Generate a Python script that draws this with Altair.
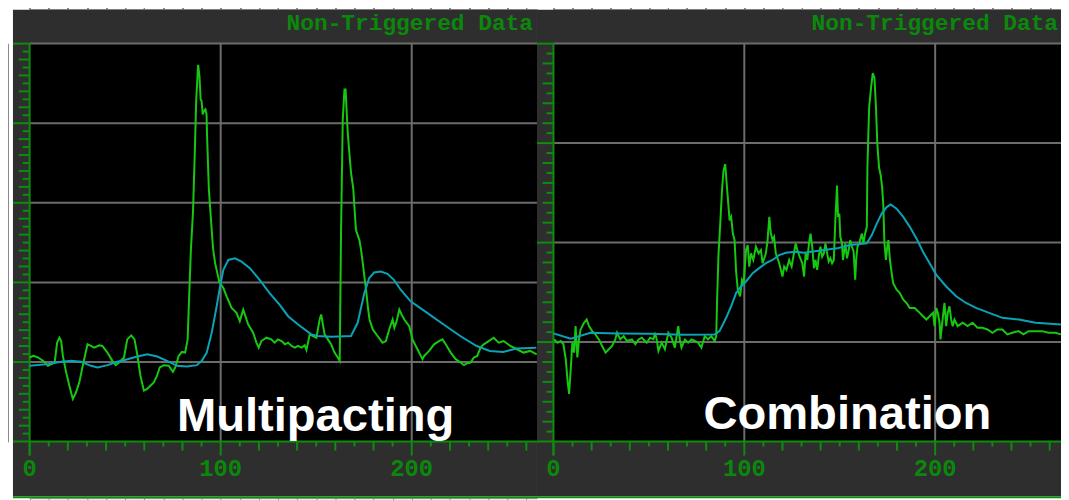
import altair as alt
import pandas as pd

# ---------------- text ----------------
TITLE = "Non-Triggered Data"
LABEL_LEFT = "Multipacting"
LABEL_RIGHT = "Combination"
X_TICK_VALUES = [0, 100, 200]
X_TICK_LABELS = ["0", "100", "200"]

# ---------------- data (x = sample, y = minor divisions) ----------------
L_GREEN = [
    (0, 10.56), (2.0, 10.76), (4.5, 10.56), (7.0, 10.14), (9.6, 9.52), (11.3, 9.73), (13.1, 9.93),
    (14.4, 12.43), (15.6, 13.05), (16.5, 12.63), (17.4, 10.76), (19.1, 8.69), (20.8, 7.02), (22.6, 5.36),
    (24.3, 6.19), (26.0, 7.44), (27.8, 9.52), (30.3, 12.22), (32.1, 12.01), (33.8, 11.8), (36.4, 12.09),
    (38.1, 12.01), (40.7, 11.18), (43.3, 10.14), (45.1, 9.6), (46.8, 9.93), (49.4, 10.56), (51.1, 12.84),
    (53.2, 13.34), (54.9, 12.84), (56.3, 10.97), (58.0, 8.27), (59.8, 6.4), (61.5, 6.61), (63.2, 7.02),
    (65.0, 7.44), (66.7, 8.27), (68.1, 9.31), (70.2, 9.6), (72.8, 9.52), (75.0, 8.77), (76.2, 9.31),
    (78.0, 10.76), (79.7, 11.26), (81.4, 11.18), (82.7, 12.84), (83.5, 18.25), (84.4, 24.07), (85.5, 28.85),
    (86.3, 35.08), (87.2, 42.97), (88.2, 47.34), (88.9, 45.89), (89.5, 42.97), (90.0, 42.77), (90.6, 41.1),
    (91.2, 41.52), (92.0, 41.73), (92.6, 41.1), (92.9, 38.2), (93.8, 31.75), (95.0, 27.6), (96.0, 24.27),
    (97.1, 22.4), (99.3, 20.03), (101.4, 19.29), (103.1, 18.25), (105.7, 16.8), (108.3, 16.17), (110.0, 15.13),
    (111.8, 16.58), (114.4, 14.71), (117.0, 13.67), (118.7, 12.43), (119.9, 11.8), (121.3, 12.63),
    (123.9, 13.05), (126.5, 12.84), (128.2, 12.43), (130.0, 12.84), (131.9, 12.63), (133.6, 12.22),
    (135.3, 12.43), (137.1, 12.01), (138.8, 11.8), (140.5, 12.01), (142.3, 11.8), (144.0, 12.09),
    (144.9, 11.51), (146.6, 13.47), (148.3, 13.26), (150.1, 13.05), (151.8, 15.34), (152.6, 15.96),
    (153.5, 14.71), (154.4, 13.47), (156.1, 12.84), (157.8, 12.22), (159.6, 11.18), (161.3, 10.56),
    (162.3, 10.14), (163.0, 26.35), (163.9, 40.48), (164.8, 44.22), (165.4, 44.22), (165.8, 42.14),
    (166.5, 38.82), (167.4, 36.12), (168.2, 33.83), (169.4, 31.75), (170.8, 26.56), (172.6, 25.31),
    (173.5, 24.06), (174.4, 22.4), (175.2, 20.74), (176.1, 19.08), (177.0, 17.0), (177.9, 15.34),
    (179.6, 14.09), (182.1, 13.26), (184.7, 12.43), (186.5, 12.63), (188.2, 14.09), (190.0, 15.34),
    (190.9, 14.3), (192.1, 15.13), (193.5, 16.58), (194.7, 15.96), (196.1, 15.34), (198.7, 14.5),
    (200.4, 12.84), (203.0, 11.6), (205.6, 10.35), (206.5, 10.76), (209.1, 11.39), (211.7, 12.22),
    (214.3, 12.63), (216.1, 12.84), (217.8, 12.22), (220.4, 11.18), (223.0, 10.35), (225.6, 9.93),
    (227.3, 9.6), (229.1, 9.85), (230.8, 9.93), (232.5, 10.56), (234.3, 10.76), (236.0, 11.8),
    (237.7, 12.22), (240.3, 12.63), (242.9, 13.05), (245.5, 12.43), (248.1, 12.63), (251.6, 12.01),
    (255.1, 11.6), (258.5, 11.18), (262.0, 11.39), (265.4, 10.97),
]

L_CYAN = [
    (0, 9.52), (9.6, 9.73), (16.5, 10.02), (21.7, 10.14), (26.9, 10.02), (32.1, 9.52), (35.6, 9.31),
    (40.8, 9.6), (45.9, 10.02), (51.2, 10.35), (56.4, 10.68), (61.6, 10.97), (66.8, 10.68), (71.9, 10.14),
    (77.1, 9.52), (82.3, 9.44), (87.5, 9.6), (90.1, 10.14), (92.7, 11.18), (95.3, 13.67), (97.9, 17.0),
    (99.7, 19.5), (101.4, 21.57), (104.0, 22.82), (107.5, 23.03), (110.9, 22.61), (115.3, 21.78),
    (120.4, 20.32), (125.6, 18.66), (130.8, 17.2), (135.3, 15.75), (140.5, 14.71), (147.4, 13.47),
    (150.9, 13.26), (157.8, 13.18), (168.2, 13.26), (171.7, 14.92), (175.2, 18.66), (177.7, 20.53),
    (180.3, 21.24), (183.8, 21.37), (187.3, 21.08), (190.7, 20.32), (194.2, 19.08), (199.4, 17.62),
    (208.1, 16.17), (216.7, 14.71), (225.4, 13.26), (234.0, 12.01), (240.9, 11.39), (247.8, 11.26),
    (254.8, 11.68), (265.2, 11.8),
]

R_GREEN = [
    (0.4, 10.27), (2.1, 9.94), (3.85, 10.11), (5.2, 9.78), (6.45, 8.28), (7.3, 6.28), (8.2, 4.79),
    (9.05, 7.28), (9.9, 9.94), (10.8, 8.94), (11.6, 11.6), (12.5, 8.45), (13.4, 10.27), (14.2, 11.27),
    (16.0, 11.94), (17.4, 12.27), (18.6, 11.6), (20.3, 11.1), (22.0, 10.77), (23.8, 10.27), (25.5, 9.61),
    (27.3, 8.94), (29.0, 9.28), (30.7, 9.61), (32.4, 10.27), (33.3, 10.94), (35.0, 10.27), (36.8, 10.6),
    (38.5, 10.11), (41.1, 10.27), (42.9, 9.78), (44.6, 10.27), (46.3, 10.44), (48.9, 9.94), (50.6, 10.44),
    (52.4, 10.27), (53.2, 10.94), (54.1, 10.27), (55.0, 9.11), (56.7, 9.94), (58.4, 9.28), (60.2, 10.94),
    (61.9, 10.44), (63.6, 9.44), (65.4, 11.6), (66.2, 10.27), (67.1, 9.44), (68.9, 10.27), (70.6, 9.94),
    (72.3, 10.27), (74.1, 10.11), (75.8, 9.94), (77.5, 9.44), (79.3, 10.6), (81.0, 10.27), (82.7, 10.6),
    (84.5, 10.11), (85.3, 10.6), (85.7, 13.93), (86.5, 18.92), (87.4, 21.91), (88.3, 25.24), (89.1, 27.23),
    (90.0, 27.9), (90.9, 25.57), (92.3, 22.24), (93.1, 22.58), (94.0, 20.91), (94.9, 20.25), (95.7, 17.09),
    (96.6, 15.26), (97.8, 14.6), (98.8, 16.26), (99.7, 15.93), (100.9, 19.25), (101.8, 19.75),
    (102.6, 17.59), (103.5, 18.92), (104.7, 18.25), (106.1, 19.58), (107.5, 18.92), (108.7, 19.25),
    (109.6, 17.92), (111.3, 18.92), (112.2, 20.25), (113.1, 22.58), (113.9, 20.91), (114.8, 20.25),
    (115.6, 20.58), (116.5, 18.92), (118.3, 17.92), (120.0, 16.59), (120.9, 17.59), (122.1, 17.26),
    (123.5, 18.25), (124.8, 17.59), (126.0, 18.92), (126.9, 19.92), (127.8, 19.25), (129.0, 18.58),
    (130.4, 17.92), (131.3, 16.59), (132.1, 18.92), (133.0, 18.25), (133.9, 19.92), (134.7, 20.91),
    (135.6, 19.58), (136.5, 17.42), (137.3, 18.25), (138.2, 17.26), (139.0, 18.58), (139.9, 19.58),
    (140.8, 18.58), (141.7, 18.92), (142.5, 19.92), (143.4, 18.92), (144.2, 18.09), (145.1, 18.42),
    (146.0, 17.92), (146.9, 18.25), (147.7, 22.24), (148.6, 25.74), (149.1, 22.58), (149.8, 22.91),
    (150.3, 20.58), (151.2, 19.92), (151.7, 18.25), (152.4, 19.25), (152.9, 19.92), (153.8, 18.42),
    (154.7, 19.25), (155.5, 20.25), (156.4, 19.58), (157.3, 19.08), (158.1, 16.26), (158.6, 18.25),
    (159.3, 19.58), (160.4, 20.08), (161.6, 20.91), (162.4, 19.92), (163.3, 20.91), (164.2, 21.58),
    (164.5, 27.56), (165.4, 33.55), (166.4, 35.54), (167.3, 37.04), (168.2, 36.54), (169.0, 33.55),
    (169.7, 29.89), (170.6, 27.56), (171.5, 26.73), (172.2, 25.57), (172.8, 23.91), (173.4, 20.08),
    (174.2, 18.25), (174.9, 19.58), (175.5, 20.25), (176.3, 18.25), (177.2, 16.93), (178.0, 15.93),
    (179.8, 15.26), (181.5, 14.93), (183.3, 14.26), (185.0, 13.93), (186.7, 13.43), (189.3, 13.43),
    (191.9, 12.94), (193.6, 12.6), (195.4, 12.27), (197.1, 12.6), (198.9, 12.94), (199.7, 11.6),
    (200.6, 13.43), (201.4, 12.94), (202.3, 11.94), (202.8, 10.27), (203.7, 11.94), (204.9, 13.93),
    (205.8, 11.6), (206.6, 12.94), (207.5, 13.6), (208.4, 12.27), (209.2, 11.6), (210.1, 12.27),
    (211.8, 11.6), (214.4, 11.94), (217.0, 11.6), (219.6, 11.94), (222.2, 11.44), (224.8, 11.44),
    (227.4, 11.27), (230.0, 10.94), (232.6, 11.27), (235.2, 11.27), (237.8, 10.77), (240.4, 10.94),
    (243.7, 11.1), (246.3, 10.77), (248.9, 11.1), (252.6, 11.1), (256.0, 11.1), (259.5, 10.94),
    (263.0, 10.94), (265.9, 10.77),
]

R_CYAN = [
    (0, 10.87), (9.05, 10.34), (19.4, 10.94), (33.3, 10.87), (50.6, 10.84), (68.0, 10.74), (84.5, 10.77),
    (87.0, 11.1), (90.5, 12.44), (93.1, 13.6), (95.7, 14.93), (98.3, 15.59), (100.9, 16.09), (104.4, 16.93),
    (107.8, 17.43), (111.3, 17.93), (114.8, 18.25), (118.3, 18.75), (121.7, 18.98), (126.9, 19.08),
    (131.3, 18.98), (141.7, 19.25), (148.6, 19.42), (155.5, 19.75), (164.2, 19.92), (166.8, 20.75),
    (169.4, 21.91), (172.0, 22.91), (174.6, 23.57), (176.7, 23.84), (179.8, 23.41), (183.3, 22.58),
    (186.7, 21.58), (190.2, 20.42), (193.6, 19.08), (197.1, 17.92), (200.6, 16.76), (205.8, 15.59),
    (211.0, 14.6), (216.2, 13.93), (221.4, 13.43), (228.3, 12.94), (235.2, 12.44), (243.9, 12.27),
    (252.6, 11.94), (265.9, 11.77),
]

# ---------------- style ----------------
GREEN = "#16c810"
CYAN = "#0aa2b6"
AXIS = "#0e8c0e"
TXT_GREEN = "#0b880b"
GRID = "#6c6c6c"
FRAME = "#2e2e2e"

W, H = 1061, 492
TOP, BOT = 34, 435

ONE = alt.Data(values=[{}])


def series_df(pairs):
    return pd.DataFrame({"i": range(len(pairs)),
                         "x": [p[0] for p in pairs],
                         "y": [p[1] for p in pairs]})


def panel(xs, ys, xmax, ymax, fx0, fx1, ax_px, green, cyan, label, lpos, title_x):
    layers = []
    # frame
    layers.append(alt.Chart(ONE).mark_rect(color=FRAME).encode(
        x=alt.value(fx0), x2=alt.value(fx1), y=alt.value(0), y2=alt.value(490)))
    # black plot area
    layers.append(alt.Chart(ONE).mark_rect(color="black").encode(
        x=alt.XDatum(0, scale=xs), x2=alt.X2Datum(xmax),
        y=alt.YDatum(0, scale=ys), y2=alt.Y2Datum(ymax)))
    # grid
    vgrid = pd.DataFrame({"v": [100, 200]})
    hgrid = pd.DataFrame({"v": list(range(10, ymax + 1, 10))})
    layers.append(alt.Chart(vgrid).mark_rule(color=GRID, strokeWidth=2).encode(
        x=alt.X("v:Q", scale=xs), y=alt.YDatum(0, scale=ys), y2=alt.Y2Datum(ymax)))
    layers.append(alt.Chart(hgrid).mark_rule(color=GRID, strokeWidth=2).encode(
        y=alt.Y("v:Q", scale=ys), x=alt.XDatum(0, scale=xs), x2=alt.X2Datum(xmax)))
    # y ticks
    major = pd.DataFrame({"v": list(range(10, ymax + 1, 10))})
    even = pd.DataFrame({"v": [v for v in range(2, ymax, 2) if v % 10]})
    odd = pd.DataFrame({"v": list(range(1, ymax, 2))})
    for df, x0 in ((major, fx0), (even, ax_px - 11), (odd, ax_px - 7)):
        layers.append(alt.Chart(df).mark_rule(color=AXIS, strokeWidth=2).encode(
            y=alt.Y("v:Q", scale=ys), x=alt.value(x0), x2=alt.value(ax_px)))
    # x ticks
    xhund = pd.DataFrame({"v": [0, 100, 200]})
    xeven = pd.DataFrame({"v": [v for v in range(20, 270, 20) if v % 100]})
    xodd = pd.DataFrame({"v": list(range(10, 270, 20))})
    for df, ln in ((xhund, 14), (xeven, 9), (xodd, 5)):
        layers.append(alt.Chart(df).mark_rule(color=AXIS, strokeWidth=2).encode(
            x=alt.X("v:Q", scale=xs), y=alt.value(BOT), y2=alt.value(BOT + ln)))
    # axis lines
    layers.append(alt.Chart(ONE).mark_rule(color=AXIS, strokeWidth=2).encode(
        y=alt.YDatum(0, scale=ys), x=alt.value(fx0), x2=alt.value(fx1)))
    layers.append(alt.Chart(ONE).mark_rule(color=AXIS, strokeWidth=2).encode(
        x=alt.XDatum(0, scale=xs), y=alt.value(TOP), y2=alt.value(BOT + 14)))
    # data
    layers.append(alt.Chart(series_df(green)).mark_line(color=GREEN, strokeWidth=2).encode(
        x=alt.X("x:Q", scale=xs), y=alt.Y("y:Q", scale=ys), order="i:Q"))
    layers.append(alt.Chart(series_df(cyan)).mark_line(color=CYAN, strokeWidth=2).encode(
        x=alt.X("x:Q", scale=xs), y=alt.Y("y:Q", scale=ys), order="i:Q"))
    # tick labels
    tl = pd.DataFrame({"v": X_TICK_VALUES, "t": X_TICK_LABELS})
    layers.append(alt.Chart(tl).mark_text(font="Liberation Mono", fontWeight="bold", fontSize=24,
                                          color=TXT_GREEN, align="center", baseline="middle").encode(
        x=alt.X("v:Q", scale=xs), y=alt.value(463), text="t:N"))
    # title
    layers.append(alt.Chart(ONE).mark_text(font="Liberation Mono", fontWeight="bold", fontSize=23,
                                           color=TXT_GREEN, align="right", baseline="middle",
                                           text=TITLE).encode(
        x=alt.value(title_x), y=alt.value(13.5)))
    # big label
    layers.append(alt.Chart(ONE).mark_text(font="Liberation Sans", fontWeight="bold", fontSize=47.5,
                                           color="white", align="center", baseline="alphabetic",
                                           text=label).encode(
        x=alt.XDatum(lpos[0], scale=xs), y=alt.YDatum(lpos[1], scale=ys)))
    return layers


LX = alt.Scale(domain=[0, 265.56], range=[21.8, 533], nice=False, zero=False)
LY = alt.Scale(domain=[0, 50], range=[BOT, TOP], nice=False, zero=False)
RX = alt.Scale(domain=[0, 265.94], range=[549.6, 1061], nice=False, zero=False)
RY = alt.Scale(domain=[0, 40], range=[BOT, TOP], nice=False, zero=False)

layers = []
layers += panel(LX, LY, 265.56, 50, 5, 533, 21.8, L_GREEN, L_CYAN, LABEL_LEFT, (149.7, 1.37), 529)
layers += panel(RX, RY, 265.94, 40, 533, 1061, 549.6, R_GREEN, R_CYAN, LABEL_RIGHT, (154.0, 1.3), 1058)
layers.append(alt.Chart(ONE).mark_rule(color=AXIS, strokeWidth=2).encode(
    y=alt.value(491), x=alt.value(5), x2=alt.value(1061)))

chart = alt.layer(*layers).resolve_scale(x="independent", y="independent").properties(
    width=W, height=H, padding=0, background="white",
    autosize=alt.AutoSizeParams(type="none"),
).configure_view(stroke=None)

chart.save("out.html", embed_options={"renderer": "svg", "actions": False})
